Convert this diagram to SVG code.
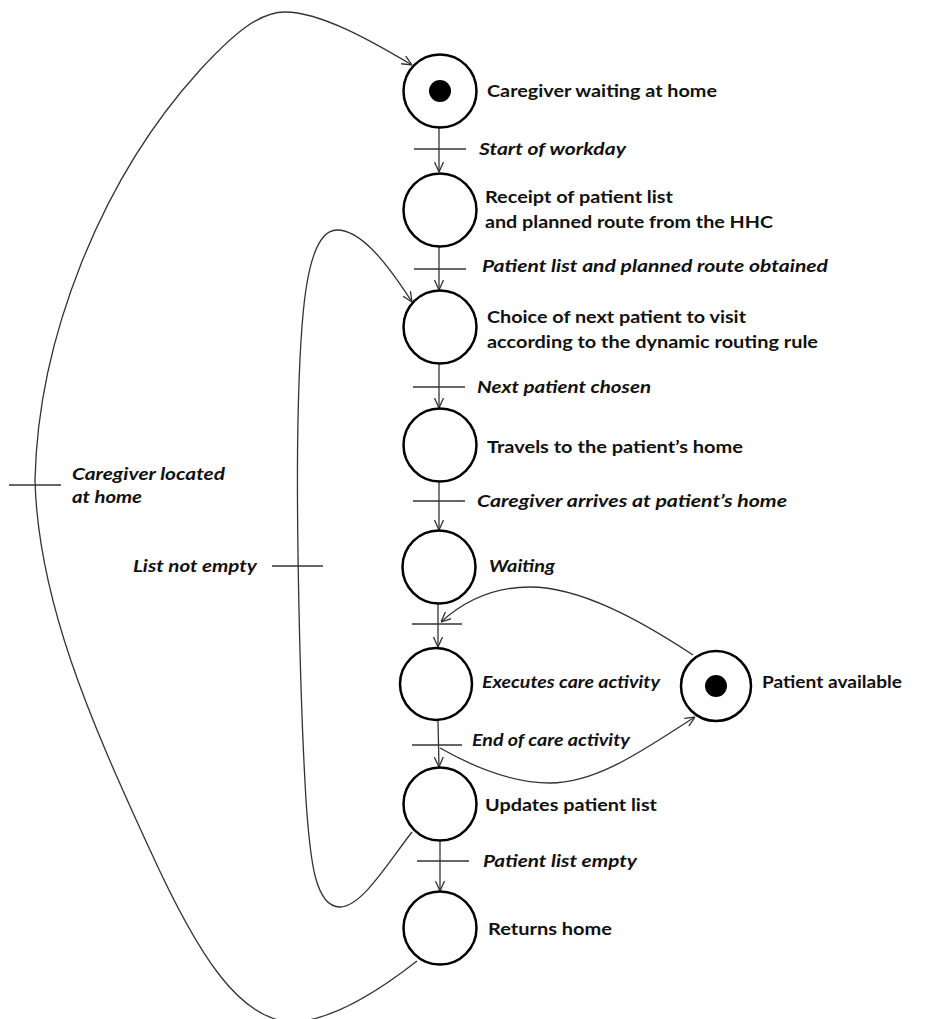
<svg xmlns="http://www.w3.org/2000/svg" width="927" height="1019" viewBox="0 0 927 1019">
<defs>
<marker id="arr" viewBox="0 0 10 10" refX="10" refY="5" markerWidth="10" markerHeight="10" markerUnits="userSpaceOnUse" orient="auto">
<path d="M0,0.5 L10,5 L0,9.5" fill="none" stroke="#333" stroke-width="1.3"/>
</marker>
<style>
.place{fill:#fff;stroke:#000;stroke-width:2.5}
.tok{fill:#000}
.bar{stroke:#333;stroke-width:1.4;fill:none}
.arc{stroke:#333;stroke-width:1.3;fill:none;marker-end:url(#arr)}
.lbl{font-family:Lato,"Open Sans",sans-serif;font-size:17px;font-weight:bold;fill:#111}
.tr{font-family:Lato,"Open Sans",sans-serif;font-size:17px;font-weight:bold;font-style:italic;fill:#111}
</style>
</defs>
<rect width="927" height="1019" fill="#fff"/>
<g id="connectors">
<line class="arc" x1="439" y1="128" x2="439" y2="172"/>
<line class="arc" x1="439" y1="247" x2="439" y2="290"/>
<line class="arc" x1="439" y1="364" x2="439" y2="408"/>
<line class="arc" x1="439" y1="482" x2="439" y2="530"/>
<line class="arc" x1="438" y1="604" x2="438" y2="647"/>
<line class="arc" x1="438" y1="721" x2="439" y2="767"/>
<line class="arc" x1="440" y1="841" x2="440" y2="891"/>
<path class="arc" d="M693 655 C640 620, 580 587, 530 587 C490 587, 462 603, 441 622"/>
<path class="arc" d="M440 748 C470 765, 510 783, 550 783 C600 783, 650 745, 695 717"/>
<path class="arc" d="M412 832 C390 860, 362 907, 340 907 C315 907, 310 860, 306 800 C300 700, 296 520, 298 420 C300 320, 305 230, 337 230 C360 230, 385 260, 412 302"/>
<path class="arc" d="M417 961 C380 990, 330 1022, 290 1022 C240 1018, 200 960, 150 850 C90 720, 38 600, 35 480 C38 340, 100 180, 200 70 C235 32, 260 12, 285 12 C320 12, 370 40, 412 65"/>
</g>
<g id="transitions">
<line class="bar" x1="414" y1="149" x2="466" y2="149"/>
<line class="bar" x1="414" y1="269" x2="466" y2="269"/>
<line class="bar" x1="413" y1="387" x2="465" y2="387"/>
<line class="bar" x1="413" y1="501" x2="465" y2="501"/>
<line class="bar" x1="412" y1="624" x2="462" y2="624"/>
<line class="bar" x1="412" y1="745" x2="462" y2="745"/>
<line class="bar" x1="417" y1="861" x2="469" y2="861"/>
<line class="bar" x1="9" y1="485" x2="61" y2="485"/>
<line class="bar" x1="272" y1="566" x2="323" y2="566"/>
</g>
<g id="p1"><circle class="place" cx="440" cy="91" r="36.5"/><circle class="tok" cx="440" cy="91" r="11"/><text class="lbl" x="487" y="97" textLength="230" lengthAdjust="spacingAndGlyphs">Caregiver waiting at home</text></g>
<g id="t1"><text class="tr" x="479" y="155" textLength="147" lengthAdjust="spacingAndGlyphs">Start of workday</text></g>
<g id="p2"><circle class="place" cx="440" cy="210" r="36.5"/><text class="lbl" x="485" y="203" textLength="188" lengthAdjust="spacingAndGlyphs">Receipt of patient list</text><text class="lbl" x="485" y="228" textLength="288" lengthAdjust="spacingAndGlyphs">and planned route from the HHC</text></g>
<g id="t2"><text class="tr" x="482" y="272" textLength="346" lengthAdjust="spacingAndGlyphs">Patient list and planned route obtained</text></g>
<g id="p3"><circle class="place" cx="440" cy="327" r="36.5"/><text class="lbl" x="487" y="323" textLength="259" lengthAdjust="spacingAndGlyphs">Choice of next patient to visit</text><text class="lbl" x="487" y="348" textLength="331" lengthAdjust="spacingAndGlyphs">according to the dynamic routing rule</text></g>
<g id="t3"><text class="tr" x="477" y="393" textLength="174" lengthAdjust="spacingAndGlyphs">Next patient chosen</text></g>
<g id="p4"><circle class="place" cx="440" cy="445" r="36.5"/><text class="lbl" x="487" y="453" textLength="256" lengthAdjust="spacingAndGlyphs">Travels to the patient’s home</text></g>
<g id="t4"><text class="tr" x="477" y="507" textLength="310" lengthAdjust="spacingAndGlyphs">Caregiver arrives at patient’s home</text></g>
<g id="p5"><circle class="place" cx="439" cy="567" r="36.5"/><text class="tr" x="489" y="572" textLength="66" lengthAdjust="spacingAndGlyphs">Waiting</text></g>
<g id="p6"><circle class="place" cx="436" cy="684" r="36"/><text class="tr" x="482" y="688" textLength="178" lengthAdjust="spacingAndGlyphs">Executes care activity</text></g>
<g id="p9"><circle class="place" cx="716" cy="686" r="35"/><circle class="tok" cx="716" cy="686" r="11"/><text class="lbl" x="762" y="688" textLength="140" lengthAdjust="spacingAndGlyphs">Patient available</text></g>
<g id="t6"><text class="tr" x="472" y="746" textLength="158" lengthAdjust="spacingAndGlyphs">End of care activity</text></g>
<g id="p7"><circle class="place" cx="440" cy="804" r="36.5"/><text class="lbl" x="485" y="811" textLength="172" lengthAdjust="spacingAndGlyphs">Updates patient list</text></g>
<g id="t7"><text class="tr" x="483" y="867" textLength="154" lengthAdjust="spacingAndGlyphs">Patient list empty</text></g>
<g id="p8"><circle class="place" cx="440" cy="928" r="36.5"/><text class="lbl" x="488" y="935" textLength="124" lengthAdjust="spacingAndGlyphs">Returns home</text></g>
<g id="t8"><text class="tr" x="72" y="480" textLength="153" lengthAdjust="spacingAndGlyphs">Caregiver located</text><text class="tr" x="72" y="503" textLength="70" lengthAdjust="spacingAndGlyphs">at home</text></g>
<g id="t9"><text class="tr" x="133" y="572" textLength="124" lengthAdjust="spacingAndGlyphs">List not empty</text></g>
</svg>
